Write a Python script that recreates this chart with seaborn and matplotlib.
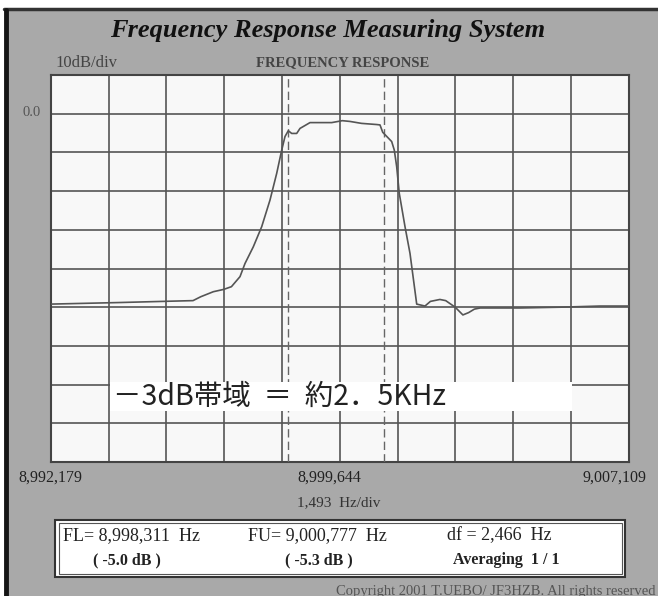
import numpy as np
import pandas as pd
import matplotlib.pyplot as plt
import seaborn as sns
from matplotlib.patches import Rectangle

# sweep data (Hz, dB)
freq_hz = [8992179, 8993930, 8995067, 8995855, 8996054, 8996379, 8996648, 8996847,
           8997069, 8997198, 8997412, 8997629, 8997844, 8998017, 8998146, 8998231,
           8998316, 8998404, 8998533, 8998619, 8998877, 8999437, 8999711, 8999910,
           9000207, 9000600, 9000685, 9000755, 9000987, 9001054, 9001116, 9001183,
           9001331, 9001460, 9001633, 9001847, 9001987, 9002232, 9002382, 9002627,
           9002826, 9002973, 9003123, 9003271, 9004301, 9005334, 9006367, 9007109]
level_db = [-49.2, -48.8, -48.5, -48.3, -47.3, -46.0, -45.4, -44.7,
            -42.1, -38.7, -34.4, -29.2, -22.3, -15.4, -9.4, -5.9,
            -4.4, -5.1, -5.1, -3.8, -2.3, -2.3, -1.8, -2.0,
            -2.5, -2.8, -2.9, -4.8, -7.2, -9.4, -13.7, -20.6,
            -29.2, -36.1, -49.2, -49.7, -48.5, -48.0, -48.3, -50.0,
            -52.0, -51.4, -50.5, -50.2, -50.2, -50.0, -49.7, -49.7]

f_start, f_center, f_stop = 8992179, 8999644, 9007109
hz_per_div = 1493
db_top, db_bottom = 10, -90
fl_hz, fu_hz = 8998311, 9000777
fl_db, fu_db = -5.0, -5.3
df_hz = 2466

data = pd.DataFrame({'freq': freq_hz, 'level': level_db})

sns.set_style("white")
plt.rcParams['font.family'] = ['Liberation Serif', 'DejaVu Sans']

W, H = 658, 596
fig = plt.figure(figsize=(W / 100, H / 100), dpi=100)
fig.patch.set_facecolor('white')

# pixel helpers for figure-level placement
def fx(px):
    return px / W

def fy(py):
    return 1 - py / H

# gray panel with dark frame on top / left
fig.add_artist(Rectangle((fx(8), 0), 1 - fx(8), fy(10), transform=fig.transFigure,
                         facecolor='#a9a9a9', edgecolor='none', zorder=0))
fig.add_artist(plt.Line2D([fx(4), 1], [fy(9), fy(9)], transform=fig.transFigure,
                          color='#333333', lw=2.5))
fig.add_artist(plt.Line2D([fx(6), fx(6)], [0, fy(10)], transform=fig.transFigure,
                          color='#151515', lw=3.5))

ax = fig.add_axes([fx(50.7), fy(462), fx(628.7) - fx(50.7), fy(75) - fy(462)])
ax.set_facecolor('#f8f8f8')

sns.lineplot(data=data, x='freq', y='level', ax=ax, color='#555555', lw=1.2, zorder=4)

for f in [fl_hz, fu_hz]:
    ax.axvline(f, color='#666666', lw=1.0, ls=(0, (6, 3)), zorder=3)

ax.set_xlim(f_start, f_stop)
ax.set_ylim(db_bottom, db_top)
ax.set_xticks(np.arange(f_start, f_stop + 1, hz_per_div))
ax.set_yticks(np.arange(db_bottom, db_top + 1, 10))
ax.tick_params(length=0, labelbottom=False, labelleft=False)
ax.grid(True, color='#555555', lw=1.2)
ax.set_axisbelow(True)
ax.set_xlabel('')
ax.set_ylabel('')
for s in ax.spines.values():
    s.set_color('#444444')
    s.set_linewidth(1.5)

# title and top labels
fig.text(fx(328), fy(30), 'Frequency Response Measuring System', ha='center', va='center',
         fontsize=19, fontweight='bold', fontstyle='italic', color='#111111')
fig.text(fx(55), fy(63), '10dB/div', ha='left', va='center', fontsize=12, color='#444444')
fig.text(fx(343), fy(63), 'FREQUENCY RESPONSE', ha='center', va='center', fontsize=10.5,
         fontweight='bold', color='#444444')
fig.text(fx(41), fy(113), '0.0', ha='right', va='center', fontsize=10.5, color='#555555')

# frequency labels
fig.text(fx(50), fy(478), f'{f_start:,}', ha='center', va='center', fontsize=11.5, color='#222222')
fig.text(fx(329), fy(478), f'{f_center:,}', ha='center', va='center', fontsize=11.5, color='#222222')
fig.text(fx(614.5), fy(478), f'{f_stop:,}', ha='center', va='center', fontsize=11.5, color='#222222')
fig.text(fx(339), fy(503), f'{hz_per_div:,}  Hz/div', ha='center', va='center', fontsize=11,
         color='#333333')

# annotation in the plot
fig.add_artist(Rectangle((fx(110), fy(411)), fx(572) - fx(110), fy(382) - fy(411),
                         transform=fig.transFigure, facecolor='white', edgecolor='none', zorder=5))
fig.text(fx(113), fy(397), '－3dB帯域  ＝  約2．5KHz', ha='left', va='center', fontsize=20.5,
         family=['Noto Sans CJK JP', 'DejaVu Sans'], color='#222222', zorder=6)

# result box
fig.add_artist(Rectangle((fx(55.3), fy(577)), fx(624.7) - fx(55.3), fy(520) - fy(577),
                         transform=fig.transFigure, facecolor='white', edgecolor='#333333', lw=1.5))
fig.add_artist(Rectangle((fx(58.5), fy(574)), fx(621.5) - fx(58.5), fy(523) - fy(574),
                         transform=fig.transFigure, facecolor='none', edgecolor='#555555', lw=0.8))
fig.text(fx(63), fy(536), f'FL= {fl_hz:,}  Hz', ha='left', va='center', fontsize=13, color='#222222')
fig.text(fx(248), fy(536), f'FU= {fu_hz:,}  Hz', ha='left', va='center', fontsize=13, color='#222222')
fig.text(fx(447), fy(536), f'df = {df_hz:,}  Hz', ha='left', va='center', fontsize=13, color='#222222')
fig.text(fx(93), fy(560), f'( {fl_db} dB )', ha='left', va='center', fontsize=11.5,
         fontweight='bold', color='#222222')
fig.text(fx(285), fy(560), f'( {fu_db} dB )', ha='left', va='center', fontsize=11.5,
         fontweight='bold', color='#222222')
fig.text(fx(453), fy(560), 'Averaging  1 / 1', ha='left', va='center', fontsize=11.5,
         fontweight='bold', color='#222222')

fig.text(fx(655), fy(591), 'Copyright 2001 T.UEBO/ JF3HZB. All rights reserved', ha='right',
         va='center', fontsize=10.5, color='#555555')

plt.savefig('out.png', dpi=100)
